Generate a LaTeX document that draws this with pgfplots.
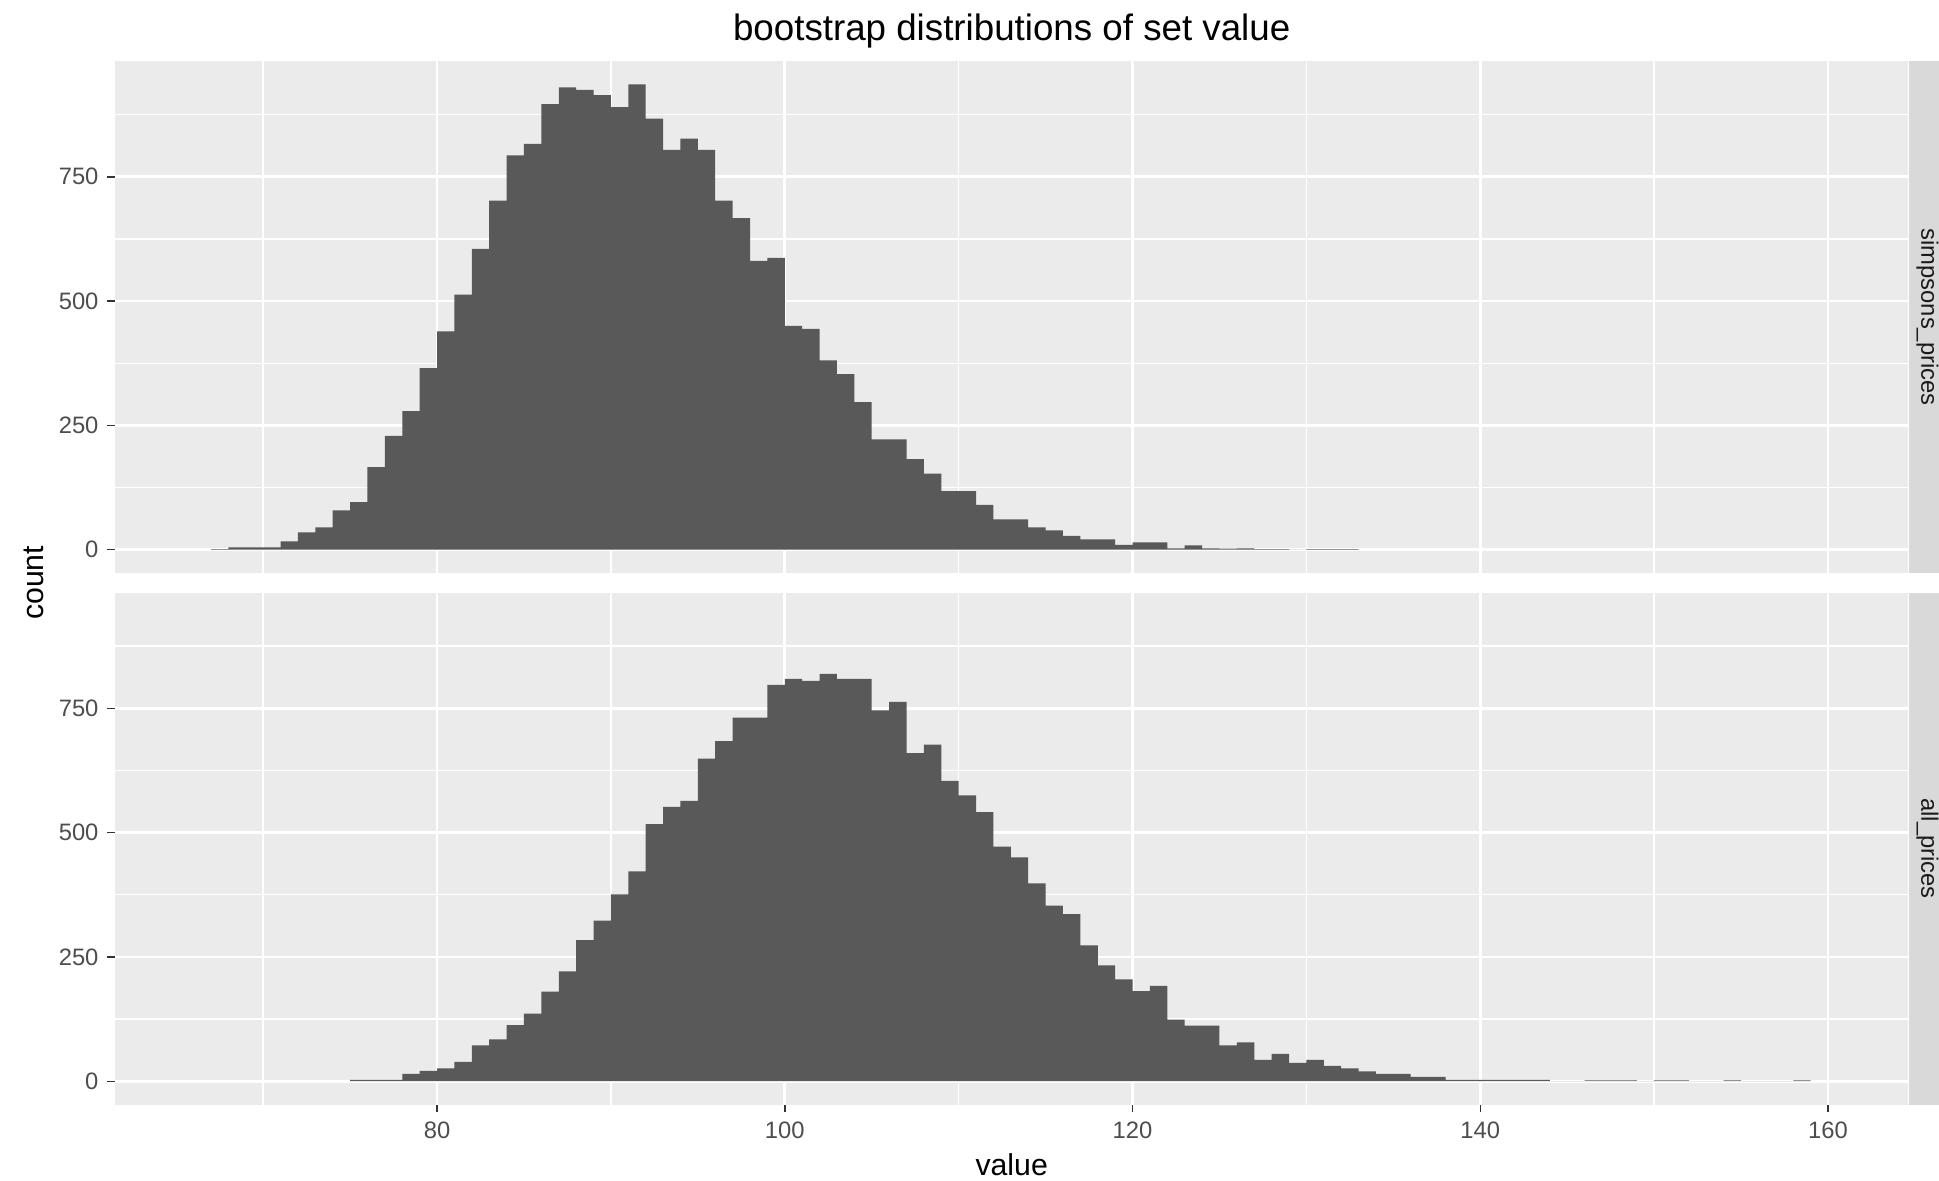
\documentclass[border=0pt]{standalone}
\usepackage{fontspec}
\setmainfont{Liberation Sans}
\usepackage{pgfplots}
\usepackage{pgfplotstable}
\pgfplotsset{compat=1.18}
\definecolor{panelbg}{HTML}{EBEBEB}
\definecolor{barcol}{HTML}{595959}
\definecolor{stripbg}{HTML}{D9D9D9}
\definecolor{ticklab}{HTML}{4D4D4D}
\definecolor{tickcol}{HTML}{333333}
\definecolor{striptext}{HTML}{1A1A1A}

% left bin edge, count (bin width 1); last row closes the last bin
\pgfplotstableread{
x y
67 1
68 5
69 5
70 5
71 17
72 35
73 45
74 79
75 96
76 166
77 229
78 279
79 365
80 439
81 513
82 605
83 702
84 793
85 816
86 896
87 930
88 925
89 914
90 890
91 936
92 867
93 804
94 827
95 804
96 702
97 667
98 581
99 587
100 450
101 444
102 381
103 353
104 297
105 222
106 222
107 182
108 153
109 118
110 118
111 90
112 61
113 61
114 45
115 39
116 28
117 21
118 21
119 10
120 15
121 15
122 3
123 9
124 3
125 2
126 3
127 1
128 1
129 0
130 1
131 1
132 1
133 1
}\simpsons

\pgfplotstableread{
x y
75 3
76 3
77 3
78 15
79 21
80 26
81 39
82 72
83 84
84 113
85 136
86 180
87 221
88 284
89 323
90 376
91 422
92 517
93 552
94 564
95 649
96 684
97 731
98 731
99 797
100 809
101 805
102 819
103 809
104 809
105 746
106 763
107 660
108 677
109 604
110 575
111 541
112 472
113 450
114 398
115 353
116 336
117 273
118 233
119 205
120 181
121 192
122 124
123 112
124 112
125 72
126 78
127 43
128 55
129 37
130 43
131 31
132 26
133 20
134 15
135 15
136 9
137 9
138 3
139 3
140 3
141 3
142 3
143 3
144 0
145 0
146 2
147 2
148 2
149 0
150 2
151 2
152 0
153 0
154 2
155 0
156 0
157 0
158 2
159 2
}\allprices

\pgfplotsset{
  ggpanel/.style={
    scale only axis, width=664.26pt, height=189.63pt,
    anchor=south west,
    xmin=61.45, xmax=164.6, ymin=-46.8, ymax=982.8,
    axis background/.style={fill=panelbg},
    axis line style={draw=none},
    xtick={80,100,120,140,160}, minor xtick={70,90,110,130,150},
    ytick={0,250,500,750}, minor ytick={125,375,625,875},
    xmajorgrids, ymajorgrids, xminorgrids, yminorgrids,
    major grid style={white, line width=1.0pt},
    minor grid style={white, line width=0.5pt},
    tick align=outside, major tick length=2.75pt, minor tick length=0pt,
    tick pos=left,
    tick style={color=tickcol, line width=0.55pt},
    /pgf/number format/assume math mode=true,
    tick label style={font=\fontsize{8.8}{10}\selectfont, text=ticklab},
    yticklabel style={inner sep=0pt, xshift=-3.0pt},
    xticklabel style={inner sep=0pt, yshift=-3.4pt},
    clip=true,
  }
}

\begin{document}
\begin{tikzpicture}
\useasboundingbox (0,0) rectangle (718.15pt,437.04pt);

% top panel: simpsons_prices
\begin{axis}[ggpanel, at={(42.41pt,224.81pt)}, xmajorticks=false]
\addplot[fill=barcol, draw=none, const plot] table[x=x,y=y] {\simpsons} \closedcycle;
\end{axis}

% bottom panel: all_prices
\begin{axis}[ggpanel, at={(42.41pt,27.96pt)}]
\addplot[fill=barcol, draw=none, const plot] table[x=x,y=y] {\allprices} \closedcycle;
\end{axis}

% facet strips
\fill[stripbg] (707.2pt,224.81pt) rectangle (718.15pt,414.44pt);
\fill[stripbg] (707.2pt,27.96pt) rectangle (718.15pt,217.59pt);
\node[rotate=-90, anchor=base, inner sep=0pt, text=striptext, font=\fontsize{8.8}{10}\selectfont]
  at (711.6pt,319.6pt) {simpsons\_prices};
\node[rotate=-90, anchor=base, inner sep=0pt, text=striptext, font=\fontsize{8.8}{10}\selectfont]
  at (711.6pt,122.8pt) {all\_prices};

% titles
\node[anchor=base, inner sep=0pt, font=\fontsize{13.6}{16}\selectfont]
  at (374.7pt,421.9pt) {bootstrap distributions of set value};
\node[anchor=base, inner sep=0pt, font=\fontsize{11.2}{13}\selectfont]
  at (374.7pt,1.85pt) {value};
\node[rotate=90, anchor=base, inner sep=0pt, font=\fontsize{11.2}{13}\selectfont]
  at (16.1pt,221.2pt) {count};
\end{tikzpicture}
\end{document}
